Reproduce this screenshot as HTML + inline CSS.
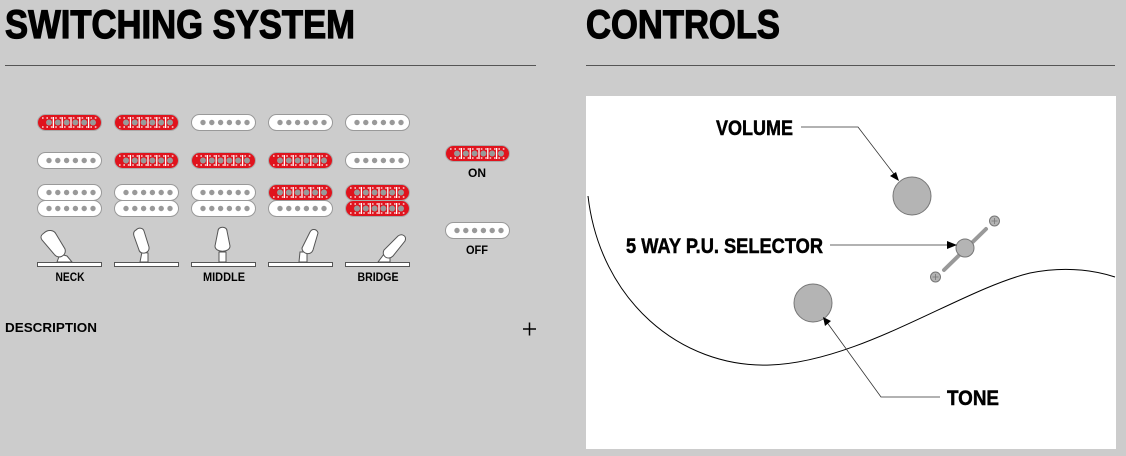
<!DOCTYPE html>
<html><head><meta charset="utf-8"><style>
html,body{margin:0;padding:0;background:#cccccc;}
svg{display:block;}
text{font-family:"Liberation Sans",sans-serif;font-weight:bold;}
</style></head><body>
<svg width="1126" height="456" viewBox="0 0 1126 456" xmlns="http://www.w3.org/2000/svg">
<defs>
<g id="pw">
  <rect x="0.5" y="0.5" width="64" height="16" rx="8" fill="#fff" stroke="#999" stroke-width="1"/>
  <g fill="#999"><circle cx="12" cy="8.5" r="2.7"/><circle cx="20.8" cy="8.5" r="2.7"/><circle cx="29.6" cy="8.5" r="2.7"/><circle cx="38.4" cy="8.5" r="2.7"/><circle cx="47.2" cy="8.5" r="2.7"/><circle cx="56" cy="8.5" r="2.7"/></g>
</g>
<g id="pr">
  <rect x="0.5" y="0.5" width="64" height="16" rx="8" fill="#e0131d" stroke="#aaa" stroke-width="1"/>
  <g fill="#999"><circle cx="12" cy="8.5" r="3"/><circle cx="20.8" cy="8.5" r="3"/><circle cx="29.6" cy="8.5" r="3"/><circle cx="38.4" cy="8.5" r="3"/><circle cx="47.2" cy="8.5" r="3"/><circle cx="56" cy="8.5" r="3"/></g>
  <g stroke="#fff" stroke-width="1.3" stroke-dasharray="1.6 2.8">
    <line x1="5" y1="4" x2="61" y2="4"/><line x1="5" y1="13" x2="61" y2="13"/>
  </g>
  <g stroke="#fff" stroke-width="1.3">
    <line x1="16.4" y1="3" x2="16.4" y2="14"/><line x1="25.2" y1="3" x2="25.2" y2="14"/><line x1="34" y1="3" x2="34" y2="14"/><line x1="42.8" y1="3" x2="42.8" y2="14"/><line x1="51.6" y1="3" x2="51.6" y2="14"/>
  </g>
</g>
</defs>
<text x="5" y="38" font-size="40" textLength="350" lengthAdjust="spacingAndGlyphs" fill="#000" stroke="#000" stroke-width="1.2">SWITCHING SYSTEM</text>
<text x="586" y="38" font-size="40" textLength="194" lengthAdjust="spacingAndGlyphs" fill="#000" stroke="#000" stroke-width="1.2">CONTROLS</text>
<line x1="5" y1="65.5" x2="536" y2="65.5" stroke="#555" stroke-width="1"/>
<line x1="586" y1="65.5" x2="1115" y2="65.5" stroke="#555" stroke-width="1"/>

<use href="#pr" x="37" y="114"/><use href="#pr" x="114" y="114"/><use href="#pw" x="191" y="114"/><use href="#pw" x="268" y="114"/><use href="#pw" x="345" y="114"/>
<use href="#pw" x="37" y="152"/><use href="#pr" x="114" y="152"/><use href="#pr" x="191" y="152"/><use href="#pr" x="268" y="152"/><use href="#pw" x="345" y="152"/>
<use href="#pw" x="37" y="184"/><use href="#pw" x="114" y="184"/><use href="#pw" x="191" y="184"/><use href="#pr" x="268" y="184"/><use href="#pr" x="345" y="184"/>
<use href="#pw" x="37" y="200"/><use href="#pw" x="114" y="200"/><use href="#pw" x="191" y="200"/><use href="#pw" x="268" y="200"/><use href="#pr" x="345" y="200"/>
<use href="#pr" x="445" y="145"/>
<use href="#pw" x="445" y="222"/>
<text x="477" y="177" font-size="12" text-anchor="middle" textLength="18" lengthAdjust="spacingAndGlyphs">ON</text>
<text x="477" y="254" font-size="12" text-anchor="middle" textLength="22" lengthAdjust="spacingAndGlyphs">OFF</text>

<g fill="#fff" stroke="#555" stroke-width="1">
  <rect x="37.5" y="262.5" width="64" height="4"/><rect x="114.5" y="262.5" width="64" height="4"/><rect x="191.5" y="262.5" width="64" height="4"/><rect x="268.5" y="262.5" width="64" height="4"/><rect x="345.5" y="262.5" width="64" height="4"/>
  <path d="M57,262 L60,254 L67,256 L72,262 Z"/>
  <path d="M44,233 C48,229 54,230 56,234 L65,249 C67,256 58,260 54,254 L42,240 C40,237 41,235 44,233 Z"/>
  <path d="M140,262 L142,252 L148,253 L148,262 Z"/>
  <path d="M136,230 C139,227 143,228 144,231 L149,247 C150,254 140,255 139,250 L134,236 C133,233 134,231 136,230 Z"/>
  <path d="M219,262 L219,252 L226,252 L226,262 Z"/>
  <path d="M218,231 C218,226 227,226 227,231 L230,246 C230,253 215,253 215,246 Z"/>
  <path d="M299,262 L300,252 L307,252 L307,262 Z"/>
  <path d="M310,232 C312,228 317,229 318,233 L313,250 C311,256 302,254 302,248 Z"/>
  <path d="M378,262 L384,254 L390,256 L390,262 Z"/>
  <path d="M398,236 C402,233 407,236 405,241 L393,256 C388,261 381,256 384,250 Z"/>
</g>
<g font-size="12" text-anchor="middle">
  <text x="70" y="281" textLength="29" lengthAdjust="spacingAndGlyphs">NECK</text>
  <text x="224" y="281" textLength="42" lengthAdjust="spacingAndGlyphs">MIDDLE</text>
  <text x="378" y="281" textLength="41" lengthAdjust="spacingAndGlyphs">BRIDGE</text>
</g>
<text x="5" y="332" font-size="12.5" textLength="92" lengthAdjust="spacingAndGlyphs">DESCRIPTION</text>
<path d="M523,329 H536 M529.5,322.5 V335.5" stroke="#000" stroke-width="1.5"/>

<rect x="586" y="96" width="530" height="353" fill="#fff"/>
<path d="M588,196 C600,300 680,368 770,365 C860,362 960,290 1030,273 C1070,265 1100,272 1115,277" fill="none" stroke="#000" stroke-width="1"/>
<g fill="#b4b4b4" stroke="#777" stroke-width="1">
  <circle cx="912" cy="196" r="19"/>
  <circle cx="813" cy="303" r="19"/>
  <line x1="944" y1="270" x2="986" y2="229" stroke="#999" stroke-width="4" stroke-linecap="round"/>
  <circle cx="965" cy="248" r="9"/>
  <circle cx="994.5" cy="221" r="5"/>
  <circle cx="935.5" cy="277" r="5"/>
</g>
<path d="M991.5,221 h6 M994.5,218 v6 M932.5,277 h6 M935.5,274 v6" stroke="#777" stroke-width="0.8"/>
<g stroke="#333" stroke-width="0.8" fill="none">
  <path d="M801,127 H858 L897,178"/>
  <path d="M830,245 H950"/>
  <path d="M940,397 H881 L826,321"/>
</g>
<g fill="#000">
  <path d="M899,181 L890,176 L896,172 Z"/>
  <path d="M957,245 L947,241 L947,249 Z"/>
  <path d="M823,317 L831,321 L825,326 Z"/>
</g>
<text x="716" y="135" font-size="21" textLength="77" lengthAdjust="spacingAndGlyphs" stroke="#000" stroke-width="0.5">VOLUME</text>
<text x="626" y="253" font-size="21" textLength="197" lengthAdjust="spacingAndGlyphs" stroke="#000" stroke-width="0.5">5 WAY P.U. SELECTOR</text>
<text x="947" y="405" font-size="21" textLength="52" lengthAdjust="spacingAndGlyphs" stroke="#000" stroke-width="0.5">TONE</text>
</svg>
</body></html>
